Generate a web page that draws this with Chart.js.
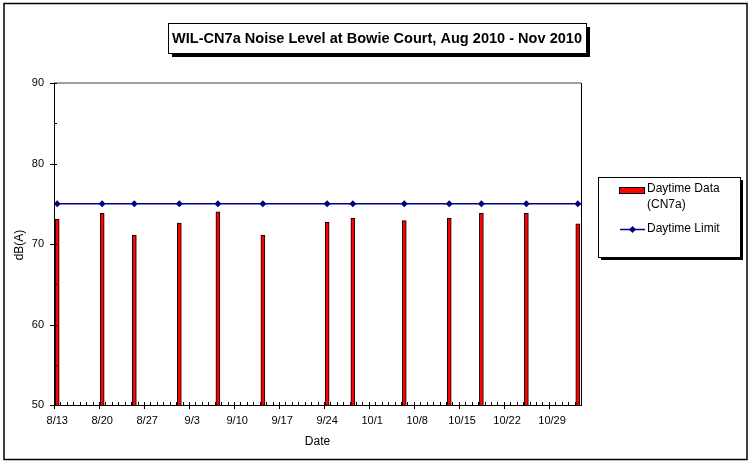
<!DOCTYPE html>
<html>
<head>
<meta charset="utf-8">
<script src="https://cdn.jsdelivr.net/npm/chart.js@4.4.1/dist/chart.umd.min.js"></script>
<style>
  html, body { margin: 0; padding: 0; background: #ffffff; }
  #wrap { width: 751px; height: 461px; }
</style>
</head>
<body>
<div id="wrap"><canvas id="c" width="751" height="461"></canvas></div>
<script>
// ---- data ----
const chartTitle = 'WIL-CN7a Noise Level at Bowie Court, Aug 2010 - Nov 2010';
const measurementDates = ['2010-08-13','2010-08-20','2010-08-25','2010-09-01','2010-09-07','2010-09-14',
  '2010-09-24','2010-09-28','2010-10-06','2010-10-13','2010-10-18','2010-10-25','2010-11-02'];
const daytimeData = [73.1, 73.8, 71.1, 72.6, 74.0, 71.1, 72.7, 73.2, 72.9, 73.2, 73.8, 73.8, 72.5];
const daytimeLimit = [75, 75, 75, 75, 75, 75, 75, 75, 75, 75, 75, 75, 75];
const limitValue = 75;
const axisStartDate = '2010-08-13';
const axisEndDate = '2010-11-03';
const xTickDates = ['2010-08-13','2010-08-20','2010-08-27','2010-09-03','2010-09-10','2010-09-17',
  '2010-09-24','2010-10-01','2010-10-08','2010-10-15','2010-10-22','2010-10-29'];
const xTickLabels = ['8/13','8/20','8/27','9/3','9/10','9/17','9/24','10/1','10/8','10/15','10/22','10/29'];
const yTickValues = [50, 60, 70, 80, 90];
const yMinorValues = [55, 65, 75, 85];
const seriesNames = ['Daytime Data', '(CN7a)', 'Daytime Limit'];

const FONT = '"Liberation Sans", Arial, sans-serif';
const DAY = 86400000;
function dayOf(s) { return (Date.parse(s + 'T00:00:00Z') - Date.parse(axisStartDate + 'T00:00:00Z')) / DAY; }
const xMax = dayOf(axisEndDate);

const barPoints = measurementDates.map((d, i) => ({ x: dayOf(d) + 0.5, y: daytimeData[i] }));
const limitPoints = [{ x: 0, y: limitValue }]
  .concat(measurementDates.map((d, i) => ({ x: dayOf(d) + 0.5, y: daytimeLimit[i] })))
  .concat([{ x: xMax, y: limitValue }]);
const limitRadius = limitPoints.map((p, i) => (i === 0 || i === limitPoints.length - 1) ? 0 : 3.5);

const decor = {
  id: 'decor',
  afterDraw(chart) {
    const ctx = chart.ctx;
    const a = chart.chartArea;
    const xs = chart.scales.x, ys = chart.scales.y;
    ctx.save();
    // outer border
    ctx.strokeStyle = '#000'; ctx.lineWidth = 1.5;
    ctx.strokeRect(4, 3.5, 743, 456);
    // plot area top (gray) and right (black)
    ctx.lineWidth = 1.5;
    ctx.strokeStyle = '#808080';
    ctx.beginPath(); ctx.moveTo(a.left, a.top); ctx.lineTo(a.right, a.top); ctx.stroke();
    ctx.strokeStyle = '#000'; ctx.lineWidth = 1;
    ctx.beginPath(); ctx.moveTo(a.right + 0.5, a.top); ctx.lineTo(a.right + 0.5, a.bottom); ctx.stroke();
    // y ticks
    ctx.strokeStyle = '#000'; ctx.lineWidth = 1;
    yTickValues.forEach(v => {
      const y = Math.round(ys.getPixelForValue(v)) + 0.5;
      ctx.beginPath(); ctx.moveTo(a.left - 4, y); ctx.lineTo(a.left + 3, y); ctx.stroke();
    });
    yMinorValues.forEach(v => {
      const y = Math.round(ys.getPixelForValue(v)) + 0.5;
      ctx.beginPath(); ctx.moveTo(a.left, y); ctx.lineTo(a.left + 3, y); ctx.stroke();
    });
    // x ticks: daily minor, weekly major
    for (let d = 0; d <= xMax; d++) {
      const x = Math.round(xs.getPixelForValue(d)) + 0.5;
      ctx.beginPath(); ctx.moveTo(x, a.bottom - 3); ctx.lineTo(x, a.bottom); ctx.stroke();
    }
    xTickDates.forEach(s => {
      const x = Math.round(xs.getPixelForValue(dayOf(s))) + 0.5;
      ctx.beginPath(); ctx.moveTo(x, a.bottom); ctx.lineTo(x, a.bottom + 4); ctx.stroke();
    });
    // axis titles
    ctx.fillStyle = '#000';
    ctx.font = '12px ' + FONT;
    ctx.textAlign = 'center'; ctx.textBaseline = 'middle';
    ctx.fillText('Date', (a.left + a.right) / 2, 442);
    ctx.save();
    ctx.translate(20, 245); ctx.rotate(-Math.PI / 2);
    ctx.fillText('dB(A)', 0, 0);
    ctx.restore();
    // title box with shadow
    const tb = { x: 168, y: 23, w: 418, h: 30 };
    ctx.fillStyle = '#000';
    ctx.fillRect(tb.x + 4, tb.y + 4, tb.w, tb.h);
    ctx.fillStyle = '#fff';
    ctx.fillRect(tb.x, tb.y, tb.w, tb.h);
    ctx.strokeStyle = '#000'; ctx.lineWidth = 1;
    ctx.strokeRect(tb.x + 0.5, tb.y + 0.5, tb.w, tb.h);
    ctx.fillStyle = '#000';
    ctx.font = 'bold 15px ' + FONT;
    const tw = ctx.measureText(chartTitle).width;
    const target = 410;
    ctx.save();
    ctx.translate(tb.x + tb.w / 2, tb.y + tb.h / 2 + 1);
    ctx.scale(Math.min(1, target / tw), 1);
    ctx.fillText(chartTitle, 0, 0);
    ctx.restore();
    // legend box with shadow
    const lb = { x: 598, y: 177, w: 142, h: 80 };
    ctx.fillStyle = '#000';
    ctx.fillRect(lb.x + 3, lb.y + 3, lb.w, lb.h);
    ctx.fillStyle = '#fff';
    ctx.fillRect(lb.x, lb.y, lb.w, lb.h);
    ctx.strokeStyle = '#000';
    ctx.strokeRect(lb.x + 0.5, lb.y + 0.5, lb.w, lb.h);
    // legend bar swatch
    ctx.fillStyle = '#ff0000';
    ctx.fillRect(619, 187, 25, 6);
    ctx.strokeStyle = '#000';
    ctx.strokeRect(619.5, 187.5, 25, 6);
    // legend line sample
    ctx.strokeStyle = '#000080'; ctx.lineWidth = 1.5;
    ctx.beginPath(); ctx.moveTo(620, 229.5); ctx.lineTo(645, 229.5); ctx.stroke();
    ctx.fillStyle = '#000080';
    ctx.beginPath();
    ctx.moveTo(632.5, 226); ctx.lineTo(636, 229.5); ctx.lineTo(632.5, 233); ctx.lineTo(629, 229.5);
    ctx.closePath(); ctx.fill();
    // legend texts
    ctx.fillStyle = '#000';
    ctx.font = '12px ' + FONT;
    ctx.textAlign = 'left'; ctx.textBaseline = 'middle';
    ctx.fillText(seriesNames[0], 647, 189);
    ctx.fillText(seriesNames[1], 647, 205);
    ctx.fillText(seriesNames[2], 647, 229);
    ctx.restore();
  }
};

new Chart(document.getElementById('c'), {
  data: {
    datasets: [
      {
        type: 'line',
        label: 'Daytime Limit',
        data: limitPoints,
        borderColor: '#000080',
        backgroundColor: '#000080',
        borderWidth: 1.5,
        pointStyle: 'rectRot',
        pointRadius: limitRadius,
        pointBackgroundColor: '#000080',
        pointBorderColor: '#000080',
        pointBorderWidth: 0,
        fill: false,
        tension: 0,
        order: 0
      },
      {
        type: 'bar',
        label: 'Daytime Data (CN7a)',
        data: barPoints,
        backgroundColor: '#ff0000',
        borderColor: '#000000',
        borderWidth: 1,
        borderSkipped: 'start',
        barThickness: 4,
        base: 50,
        grouped: false,
        order: 1
      }
    ]
  },
  options: {
    responsive: false,
    animation: false,
    devicePixelRatio: 1,
    layout: { padding: { left: 0, top: 83, right: 170, bottom: 0 } },
    plugins: { legend: { display: false }, title: { display: false }, tooltip: { enabled: false } },
    scales: {
      x: {
        type: 'linear',
        offset: false,
        min: 0,
        max: xMax,
        grid: { display: false, drawTicks: false, offset: false },
        border: { display: true, color: '#000', width: 1 },
        afterFit: s => { s.height = 56; },
        afterBuildTicks: s => { s.ticks = xTickDates.map(d => ({ value: dayOf(d) + 0.5 })); },
        ticks: {
          autoSkip: false, maxRotation: 0, minRotation: 0, padding: 9,
          color: '#000', font: { family: FONT, size: 11 },
          callback: (v, i) => xTickLabels[i]
        }
      },
      y: {
        type: 'linear',
        min: 50,
        max: 90,
        grid: { display: false, drawTicks: false },
        border: { display: true, color: '#000', width: 1 },
        afterFit: s => { s.width = 54; },
        afterBuildTicks: s => { s.ticks = yTickValues.map(v => ({ value: v })); },
        ticks: { padding: 10, color: '#000', font: { family: FONT, size: 11 } }
      }
    }
  },
  plugins: [decor]
});
</script>
</body>
</html>
